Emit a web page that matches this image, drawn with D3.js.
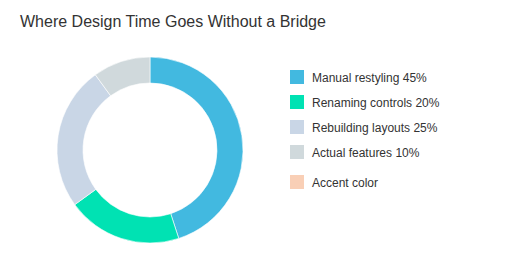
<!DOCTYPE html>
<html><head><meta charset="utf-8">
<script src="https://cdn.jsdelivr.net/npm/d3@7"></script>
<style>body{margin:0;background:#fff;} text{font-family:"Liberation Sans",Arial,sans-serif;}</style>
</head><body><svg id="c" width="520" height="260"></svg>
<script>
const categories = ["Manual restyling", "Renaming controls", "Rebuilding layouts", "Actual features"];
const values = [45, 20, 25, 10];
const colors = ["#42b9e0", "#00e2b3", "#c9d6e6", "#d0d9dc"];
const legendLabels = ["Manual restyling 45%", "Renaming controls 20%", "Rebuilding layouts 25%", "Actual features 10%", "Accent color"];
const legendColors = ["#42b9e0", "#00e2b3", "#c9d6e6", "#d0d9dc", "#f9cfb6"];
const title = "Where Design Time Goes Without a Bridge";

const svg = d3.select("#c");
svg.append("text").attr("x", 20).attr("y", 27).attr("font-size", 16).attr("fill", "#333").text(title);

const data = categories.map((c, i) => ({c, v: values[i], col: colors[i]}));
const pie = d3.pie().value(d => d.v).sort(null);
const arc = d3.arc().innerRadius(67).outerRadius(93);
const g = svg.append("g").attr("transform", "translate(150,150)");
g.selectAll("path").data(pie(data)).enter().append("path")
  .attr("d", arc).attr("fill", d => d.data.col)
  .attr("stroke", "#fff").attr("stroke-width", 0.6);

const lg = svg.append("g");
const ys = legendLabels.map((d, i) => 70 + i * 25 + (i >= 4 ? 5 : 0));
legendLabels.forEach((l, i) => {
  lg.append("rect").attr("x", 290).attr("y", ys[i]).attr("width", 14).attr("height", 14).attr("fill", legendColors[i]);
  lg.append("text").attr("x", 312).attr("y", ys[i] + 12.2).attr("font-size", 12).attr("fill", "#333").text(l);
});
</script></body></html>
